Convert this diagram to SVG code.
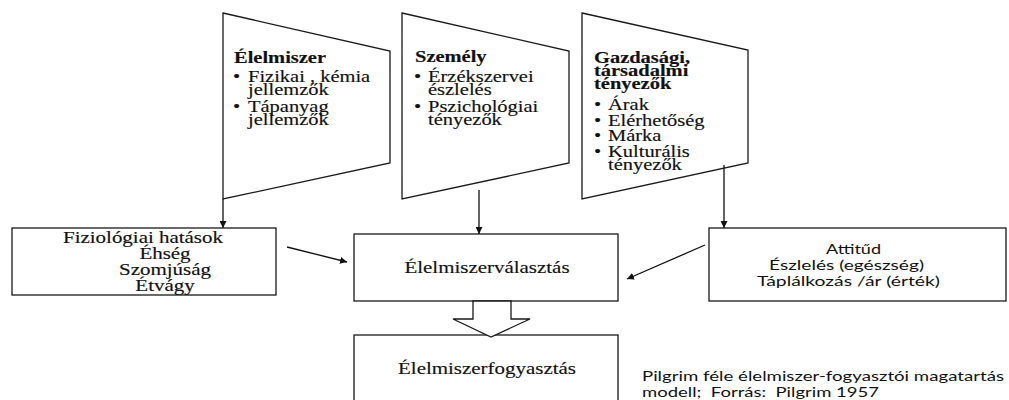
<svg xmlns="http://www.w3.org/2000/svg" width="1009" height="400" viewBox="0 0 1009 400">
<style>
.shape{fill:#fff;stroke:#1a1a1a;stroke-width:1.3}
.ser{font-family:"Liberation Serif","Times New Roman",serif;font-size:16px;fill:#111;stroke:#111;stroke-width:0.15}
.b{font-weight:bold}
.mid{text-anchor:middle}
.sans{font-family:Lato,"Open Sans","Liberation Sans",sans-serif;font-size:14px;fill:#111}
.cap{font-family:Lato,"Open Sans","Liberation Sans",sans-serif;font-size:13.5px;fill:#111}
.con{stroke:#111;stroke-width:1.3;fill:none}
</style>
<defs>
<marker id="ah" viewBox="0 0 10 10" refX="10" refY="5" markerWidth="7" markerHeight="7" markerUnits="userSpaceOnUse" orient="auto">
<path d="M0,0 L10,5 L0,10 z" fill="#111"/>
</marker>
</defs>
<rect width="1009" height="400" fill="#fff"/>

<g id="trap-elelmiszer">
<polygon class="shape" points="223,13 390,51 390,163 223,199"/>
<text class="ser b" transform="matrix(1.28 0 0 1 234 63)">Élelmiszer</text>
<text class="ser" transform="matrix(1.28 0 0 1 233 82)">•</text>
<text class="ser" transform="matrix(1.28 0 0 1 248 82)">Fizikai , kémia</text>
<text class="ser" transform="matrix(1.28 0 0 1 248 95)">jellemzők</text>
<text class="ser" transform="matrix(1.28 0 0 1 233 112)">•</text>
<text class="ser" transform="matrix(1.28 0 0 1 248 112)">Tápanyag</text>
<text class="ser" transform="matrix(1.28 0 0 1 248 125)">jellemzők</text>
</g>

<g id="trap-szemely">
<polygon class="shape" points="402,13 569,51 569,163 402,199"/>
<text class="ser b" transform="matrix(1.28 0 0 1 415 62)">Személy</text>
<text class="ser" transform="matrix(1.28 0 0 1 414 82)">•</text>
<text class="ser" transform="matrix(1.28 0 0 1 428 82)">Érzékszervei</text>
<text class="ser" transform="matrix(1.28 0 0 1 428 95)">észlelés</text>
<text class="ser" transform="matrix(1.28 0 0 1 414 112)">•</text>
<text class="ser" transform="matrix(1.28 0 0 1 428 112)">Pszichológiai</text>
<text class="ser" transform="matrix(1.28 0 0 1 428 125)">tényezők</text>
</g>

<g id="trap-gazdasagi">
<polygon class="shape" points="582,13 748,50 748,163 582,199"/>
<text class="ser b" transform="matrix(1.28 0 0 1 594 63)">Gazdasági,</text>
<text class="ser b" transform="matrix(1.28 0 0 1 594 76)">társadalmi</text>
<text class="ser b" transform="matrix(1.28 0 0 1 594 89)">tényezők</text>
<text class="ser" transform="matrix(1.28 0 0 1 594 110)">•</text>
<text class="ser" transform="matrix(1.28 0 0 1 608 110)">Árak</text>
<text class="ser" transform="matrix(1.28 0 0 1 594 126)">•</text>
<text class="ser" transform="matrix(1.28 0 0 1 608 126)">Elérhetőség</text>
<text class="ser" transform="matrix(1.28 0 0 1 594 141)">•</text>
<text class="ser" transform="matrix(1.28 0 0 1 608 141)">Márka</text>
<text class="ser" transform="matrix(1.28 0 0 1 594 157)">•</text>
<text class="ser" transform="matrix(1.28 0 0 1 608 157)">Kulturális</text>
<text class="ser" transform="matrix(1.28 0 0 1 608 170)">tényezők</text>
</g>

<g id="box-fiziologiai">
<rect class="shape" x="12" y="228" width="264" height="67"/>
<text class="ser mid" transform="matrix(1.31 0 0 1 143 243)">Fiziológiai hatások</text>
<text class="ser mid" transform="matrix(1.31 0 0 1 165 259)">Éhség</text>
<text class="ser mid" transform="matrix(1.31 0 0 1 165 275)">Szomjúság</text>
<text class="ser mid" transform="matrix(1.31 0 0 1 165 291)">Étvágy</text>
</g>

<g id="box-valasztas">
<rect class="shape" x="354" y="234" width="264" height="67"/>
<text class="ser mid" transform="matrix(1.31 0 0 1 487 273)">Élelmiszerválasztás</text>
</g>

<g id="box-fogyasztas">
<rect class="shape" x="354" y="335" width="264" height="80"/>
<text class="ser mid" transform="matrix(1.31 0 0 1 487 374)">Élelmiszerfogyasztás</text>
</g>

<g id="box-attitud">
<rect class="shape" x="709" y="228" width="297" height="73"/>
<text class="sans" x="826" y="254" textLength="55" lengthAdjust="spacingAndGlyphs">Attitűd</text>
<text class="sans" x="769" y="270" textLength="155" lengthAdjust="spacingAndGlyphs">Észlelés (egészség)</text>
<text class="sans" x="757" y="286" textLength="183" lengthAdjust="spacingAndGlyphs">Táplálkozás /ár (érték)</text>
</g>

<g id="connectors">
<line class="con" x1="223" y1="199" x2="223" y2="228" marker-end="url(#ah)"/>
<line class="con" x1="479" y1="190" x2="479" y2="234" marker-end="url(#ah)"/>
<line class="con" x1="724" y1="165" x2="724" y2="228" marker-end="url(#ah)"/>
<line class="con" x1="287" y1="247" x2="347" y2="262" marker-end="url(#ah)"/>
<line class="con" x1="705" y1="245" x2="627" y2="279" marker-end="url(#ah)"/>
<polygon class="shape" points="473,301 473,319 453,319 491,337 530,319 511,319 511,301"/>
</g>

<g id="caption">
<text class="cap" x="642" y="381" textLength="362" lengthAdjust="spacingAndGlyphs">Pilgrim féle élelmiszer-fogyasztói magatartás</text>
<text class="cap" x="642" y="397" xml:space="preserve" textLength="237" lengthAdjust="spacingAndGlyphs">modell;  Forrás:  Pilgrim 1957</text>
</g>
</svg>
